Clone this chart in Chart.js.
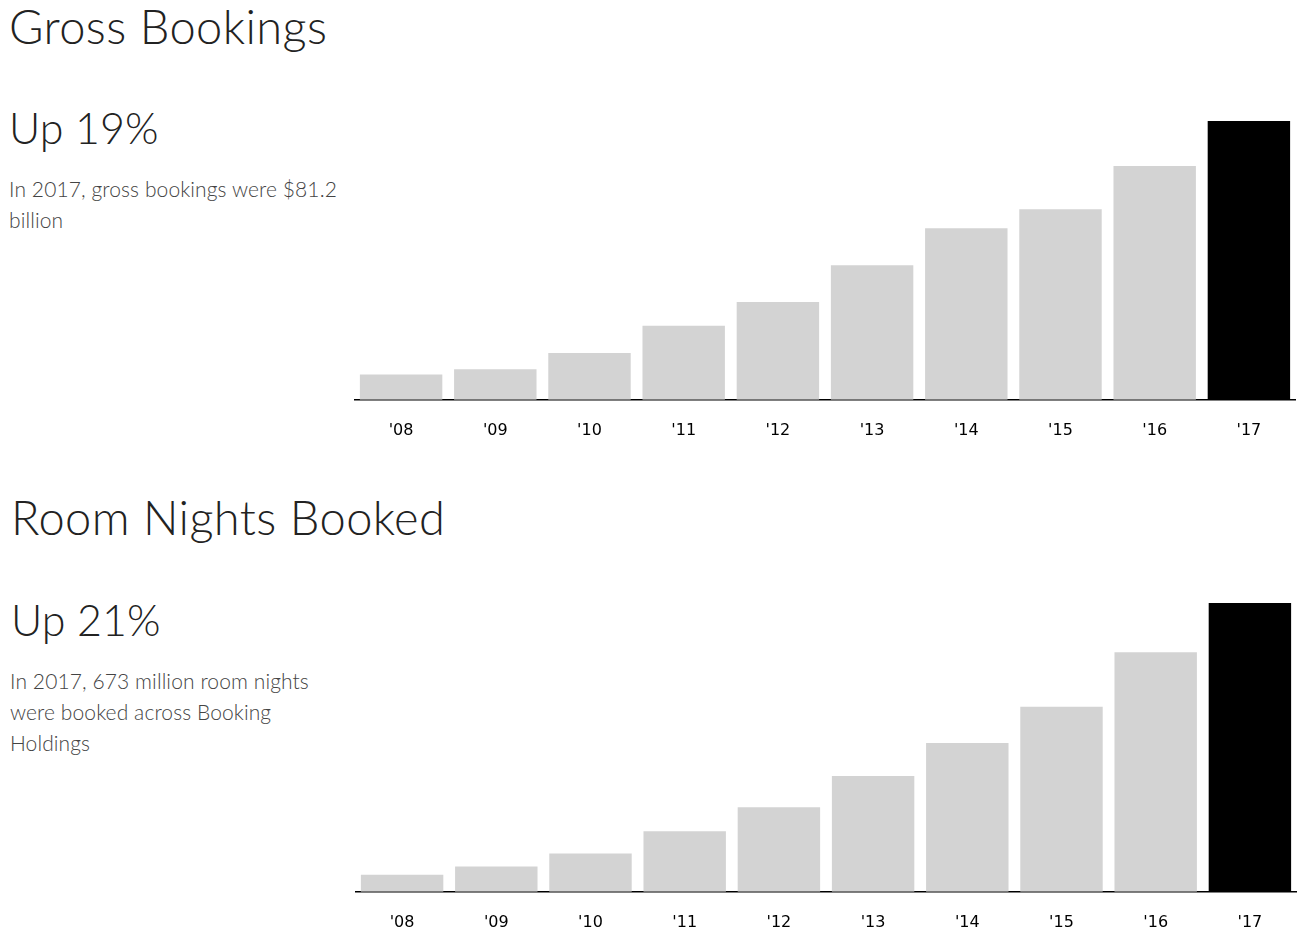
<!DOCTYPE html>
<html>
<head>
<meta charset="utf-8">
<script src="https://cdn.jsdelivr.net/npm/chart.js@4"></script>
<style>
  body { margin: 0; background: #fff; width: 1306px; height: 933px; overflow: hidden; position: relative; font-family: "Lato", sans-serif; }
  .title { position: absolute; font-weight: 300; font-size: 47px; letter-spacing: 0.4px; color: #222; white-space: nowrap; line-height: 1; }
  .big { position: absolute; font-weight: 300; font-size: 43px; color: #222; white-space: nowrap; line-height: 1; }
  .desc { position: absolute; font-weight: 300; font-size: 21px; letter-spacing: 0.1px; color: #444; line-height: 31px; width: 345px; }
  canvas { position: absolute; }
</style>
</head>
<body>
<div class="title" style="left:9px; top:3px;">Gross Bookings</div>
<div class="big" style="left:9px; top:106px;">Up 19%</div>
<div class="desc" style="left:9px; top:173px;">In 2017, gross bookings were $81.2 billion</div>
<canvas id="c1" width="942" height="340" style="left:354px; top:121px;"></canvas>

<div class="title" style="left:11px; top:494px;">Room Nights Booked</div>
<div class="big" style="left:11px; top:598px;">Up 21%</div>
<div class="desc" style="left:10px; top:665px; width:320px;">In 2017, 673 million room nights were booked across Booking Holdings</div>
<canvas id="c2" width="942" height="350" style="left:355px; top:603px;"></canvas>

<script>
// values
var years = ["'08", "'09", "'10", "'11", "'12", "'13", "'14", "'15", "'16", "'17"];
var grossBookings = [7.4, 8.9, 13.6, 21.6, 28.5, 39.2, 50.0, 55.5, 68.1, 81.2];   // $ billion
var roomNights = [40, 59, 89, 141, 197, 270, 347, 431, 558, 673];                  // million

function barColors(n) {
    var cols = [];
    for (var i = 0; i < n; i++) cols.push(i === n - 1 ? '#000000' : '#d3d3d3');
    return cols;
}

function makeChart(id, data, pad) {
    var ctx = document.getElementById(id).getContext('2d');
    return new Chart(ctx, {
        type: 'bar',
        data: {
            labels: years,
            datasets: [{
                data: data,
                backgroundColor: barColors(data.length),
                borderWidth: 0,
                barPercentage: 0.875,
                categoryPercentage: 1.0
            }]
        },
        options: {
            responsive: false,
            animation: false,
            layout: { padding: 0 },
            plugins: { legend: { display: false }, tooltip: { enabled: false } },
            scales: {
                y: { display: false, min: 0, max: data[data.length - 1] },
                x: {
                    grid: { display: false, drawTicks: false },
                    border: { display: true, color: '#000', width: 1.5 },
                    ticks: { color: '#000', padding: pad, font: { family: 'DejaVu Sans', size: 16 } }
                }
            }
        }
    });
}

makeChart('c1', grossBookings, 21);
makeChart('c2', roomNights, 21);
</script>
</body>
</html>
